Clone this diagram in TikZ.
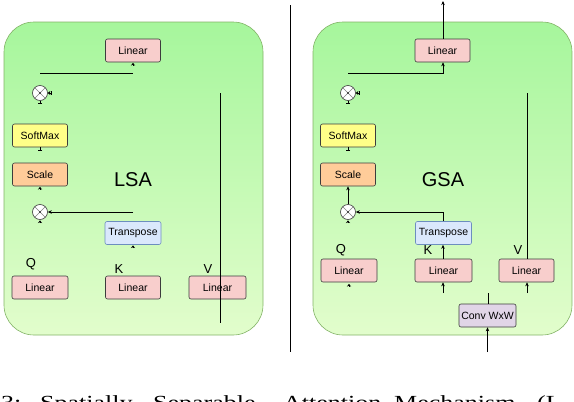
\documentclass[tikz,border=0pt]{standalone}
\usepackage{fontspec}
\setmainfont{Liberation Serif}
\newfontfamily\sfont{Liberation Sans}
\usetikzlibrary{arrows.meta}
\definecolor{gtop}{RGB}{166,246,156}
\definecolor{gbot}{RGB}{226,253,204}
\definecolor{panelborder}{RGB}{130,179,102}
\definecolor{boxborder}{RGB}{60,60,60}
\definecolor{linfill}{RGB}{248,206,204}
\definecolor{softfill}{RGB}{255,255,136}
\definecolor{scalefill}{RGB}{255,204,153}
\definecolor{trfill}{RGB}{218,232,252}
\definecolor{trborder}{RGB}{108,142,191}
\definecolor{convfill}{RGB}{225,213,231}
\begin{document}
\begin{tikzpicture}[x=1pt,y=-1pt,
  panel/.style={draw=panelborder, line width=0.6pt, rounded corners=30pt, top color=gtop, bottom color=gbot},
  box/.style={draw=boxborder, line width=0.6pt, rounded corners=2pt, minimum width=55pt, minimum height=23pt, inner sep=0pt, font=\sfont\fontsize{10.5}{12}\selectfont},
  lin/.style={box, fill=linfill},
  softbox/.style={box, fill=softfill},
  scalestyle/.style={box, fill=scalefill},
  trbox/.style={box, fill=trfill, draw=trborder, minimum width=56pt},
  convbox/.style={box, fill=convfill, minimum width=57pt},
  otimes/.style={circle, draw=boxborder, fill=white, line width=0.6pt, minimum size=15pt, inner sep=0pt},
  lbl/.style={font=\sfont\fontsize{13}{15}\selectfont, inner sep=0pt},
  big/.style={font=\sfont\fontsize{20}{24}\selectfont, inner sep=0pt},
  conn/.style={line width=0.8pt, black},
  arr/.style={conn, -{Stealth[length=4pt,width=3.5pt]}},
  caret/.style={conn, -{Stealth[length=2.6pt,width=4pt]}},
  tick/.style={conn, {Bar[width=4pt]}-},
  rtick/.style={conn, {Bar[width=4pt]}-{Stealth[length=2.6pt,width=4pt]}},
  captxt/.style={anchor=base west, inner sep=0pt, font=\fontsize{20}{24}\selectfont}
]
\useasboundingbox (0,0) rectangle (574,402);
\clip (0,0) rectangle (574,402);

% panels
\path[panel] (4,22) rectangle (263,335);
\path[panel] (313,22) rectangle (572,335);
\coordinate (d1) at (290,5);
\coordinate (d2) at (290,352);
\draw[conn] (d1) -- (d2);

% ---------- LSA ----------
\node[lin] (lL) at (133,50.5) {Linear};
\node[otimes] (m1) at (40,93) {};
\node[softbox] (sm) at (40,135.5) {SoftMax};
\node[scalestyle] (sc) at (40,174.5) {Scale};
\node[big] (lsa) at (133,180) {LSA};
\node[otimes] (m2) at (40,212) {};
\node[trbox] (tp) at (133,233) {Transpose};
\node[lbl] (lq) at (31,264) {Q};
\node[lbl] (lk) at (119,269) {K};
\node[lbl] (lv) at (208,269) {V};
\node[lin, minimum width=56pt] (lLq) at (40,287.5) {Linear};
\node[lin] (lLk) at (133,287.5) {Linear};
\node[lin, minimum width=57pt] (lLv) at (217.5,287.5) {Linear};

\coordinate (h1) at (40,73);
\draw[conn] (h1) -- (h1 -| lL);
\coordinate (lv1) at (220,93);
\coordinate (lv2) at (220,323);
\draw[conn] (lv1) -- (lv2);
\draw[arr] (m2 -| tp) -- (m2.east);
% stub marks
\draw[caret] ([yshift=-3.2pt]lL.south) -- ([yshift=-0.6pt]lL.south);
\draw[rtick] ([xshift=4pt]m1.east) -- (m1.east);
\draw[tick] ([yshift=-3pt]m1.south) -- (m1.south);
\draw[tick] ([yshift=-3pt]sm.south) -- (sm.south);
\draw[caret] ([yshift=-3.2pt]sc.south) -- ([yshift=-0.6pt]sc.south);
\draw[caret] ([yshift=-3.2pt]m2.south) -- ([yshift=-0.6pt]m2.south);
\draw[caret] ([yshift=-3.2pt]tp.south) -- ([yshift=-0.6pt]tp.south);

% ---------- GSA ----------
\node[lin] (gL) at (442.5,50.5) {Linear};
\node[otimes] (g1) at (348,93) {};
\node[softbox] (gsm) at (348,135.5) {SoftMax};
\node[scalestyle] (gsc) at (348,174.5) {Scale};
\node[big] (gsa) at (443,180) {GSA};
\node[otimes] (g2) at (348,212) {};
\node[trbox] (gtp) at (443.5,233) {Transpose};
\node[lbl] (gq) at (341,250) {Q};
\node[lbl] (gk) at (428,250) {K};
\node[lbl] (gv) at (518,250) {V};
\node[lin, minimum width=56pt] (gLq) at (349,270.5) {Linear};
\node[lin, minimum width=57pt] (gLk) at (443.5,270.5) {Linear};
\node[lin] (gLv) at (526.5,270.5) {Linear};
\node[convbox] (conv) at (487.5,315.5) {Conv WxW};

\coordinate (out) at (443,1);
\draw[arr] (gL.north -| out) -- (out);
\coordinate (gh1) at (348,73);
\draw[arr] (gh1) -| ([xshift=0.5pt]gL.south);
\coordinate (gv1) at (527,93);
\draw[conn] (gv1) -- (gv1 |- gLv.north);
\draw[arr] (g2.north) -- (gsc.south);
\draw[arr] (gtp.north -| out) |- (g2.east);
\draw[arr] (gLk.north -| out) -- (gtp.south -| out);
\coordinate (ik) at (443,293);
\draw[arr] (ik) -- (ik |- gLk.south);
\coordinate (iv) at (527,293);
\draw[arr] (iv) -- (iv |- gLv.south);
\coordinate (ic) at (488,293);
\draw[conn] (ic) -- (ic |- conv.north);
\coordinate (inp) at (487.5,352);
\draw[arr] (inp) -- (conv.south);
% stub marks
\draw[rtick] ([xshift=4pt]g1.east) -- (g1.east);
\draw[tick] ([yshift=-3pt]g1.south) -- (g1.south);
\draw[tick] ([yshift=-3pt]gsm.south) -- (gsm.south);
\draw[caret] ([yshift=-3.2pt]g2.south) -- ([yshift=-0.6pt]g2.south);
\draw[caret] ([yshift=-4.2pt]gLq.south) -- ([yshift=-1.6pt]gLq.south);

% otimes crosses
\foreach \m in {m1,m2,g1,g2}{
  \draw[gray, line width=0.5pt] (\m.45) -- (\m.225) (\m.135) -- (\m.315);
  \fill[black] (\m) circle (0.8pt);
}

% caption (cut off at the bottom, as in the reference)
\node[captxt] (c1) at (1,409) {\scalebox{1.3}[1]{3:}};
\node[captxt] (c2) at (40,409) {\scalebox{1.3}[1]{Spatially}};
\node[captxt] (c3) at (153,409) {\scalebox{1.3}[1]{Separable}};
\node[captxt] (c4) at (283,409) {\scalebox{1.3}[1]{Attention}};
\node[captxt] (c5) at (394,409) {\scalebox{1.3}[1]{Mechanism}};
\node[captxt] (c6) at (537,409) {\scalebox{1.3}[1]{(L}};
\end{tikzpicture}
\end{document}
